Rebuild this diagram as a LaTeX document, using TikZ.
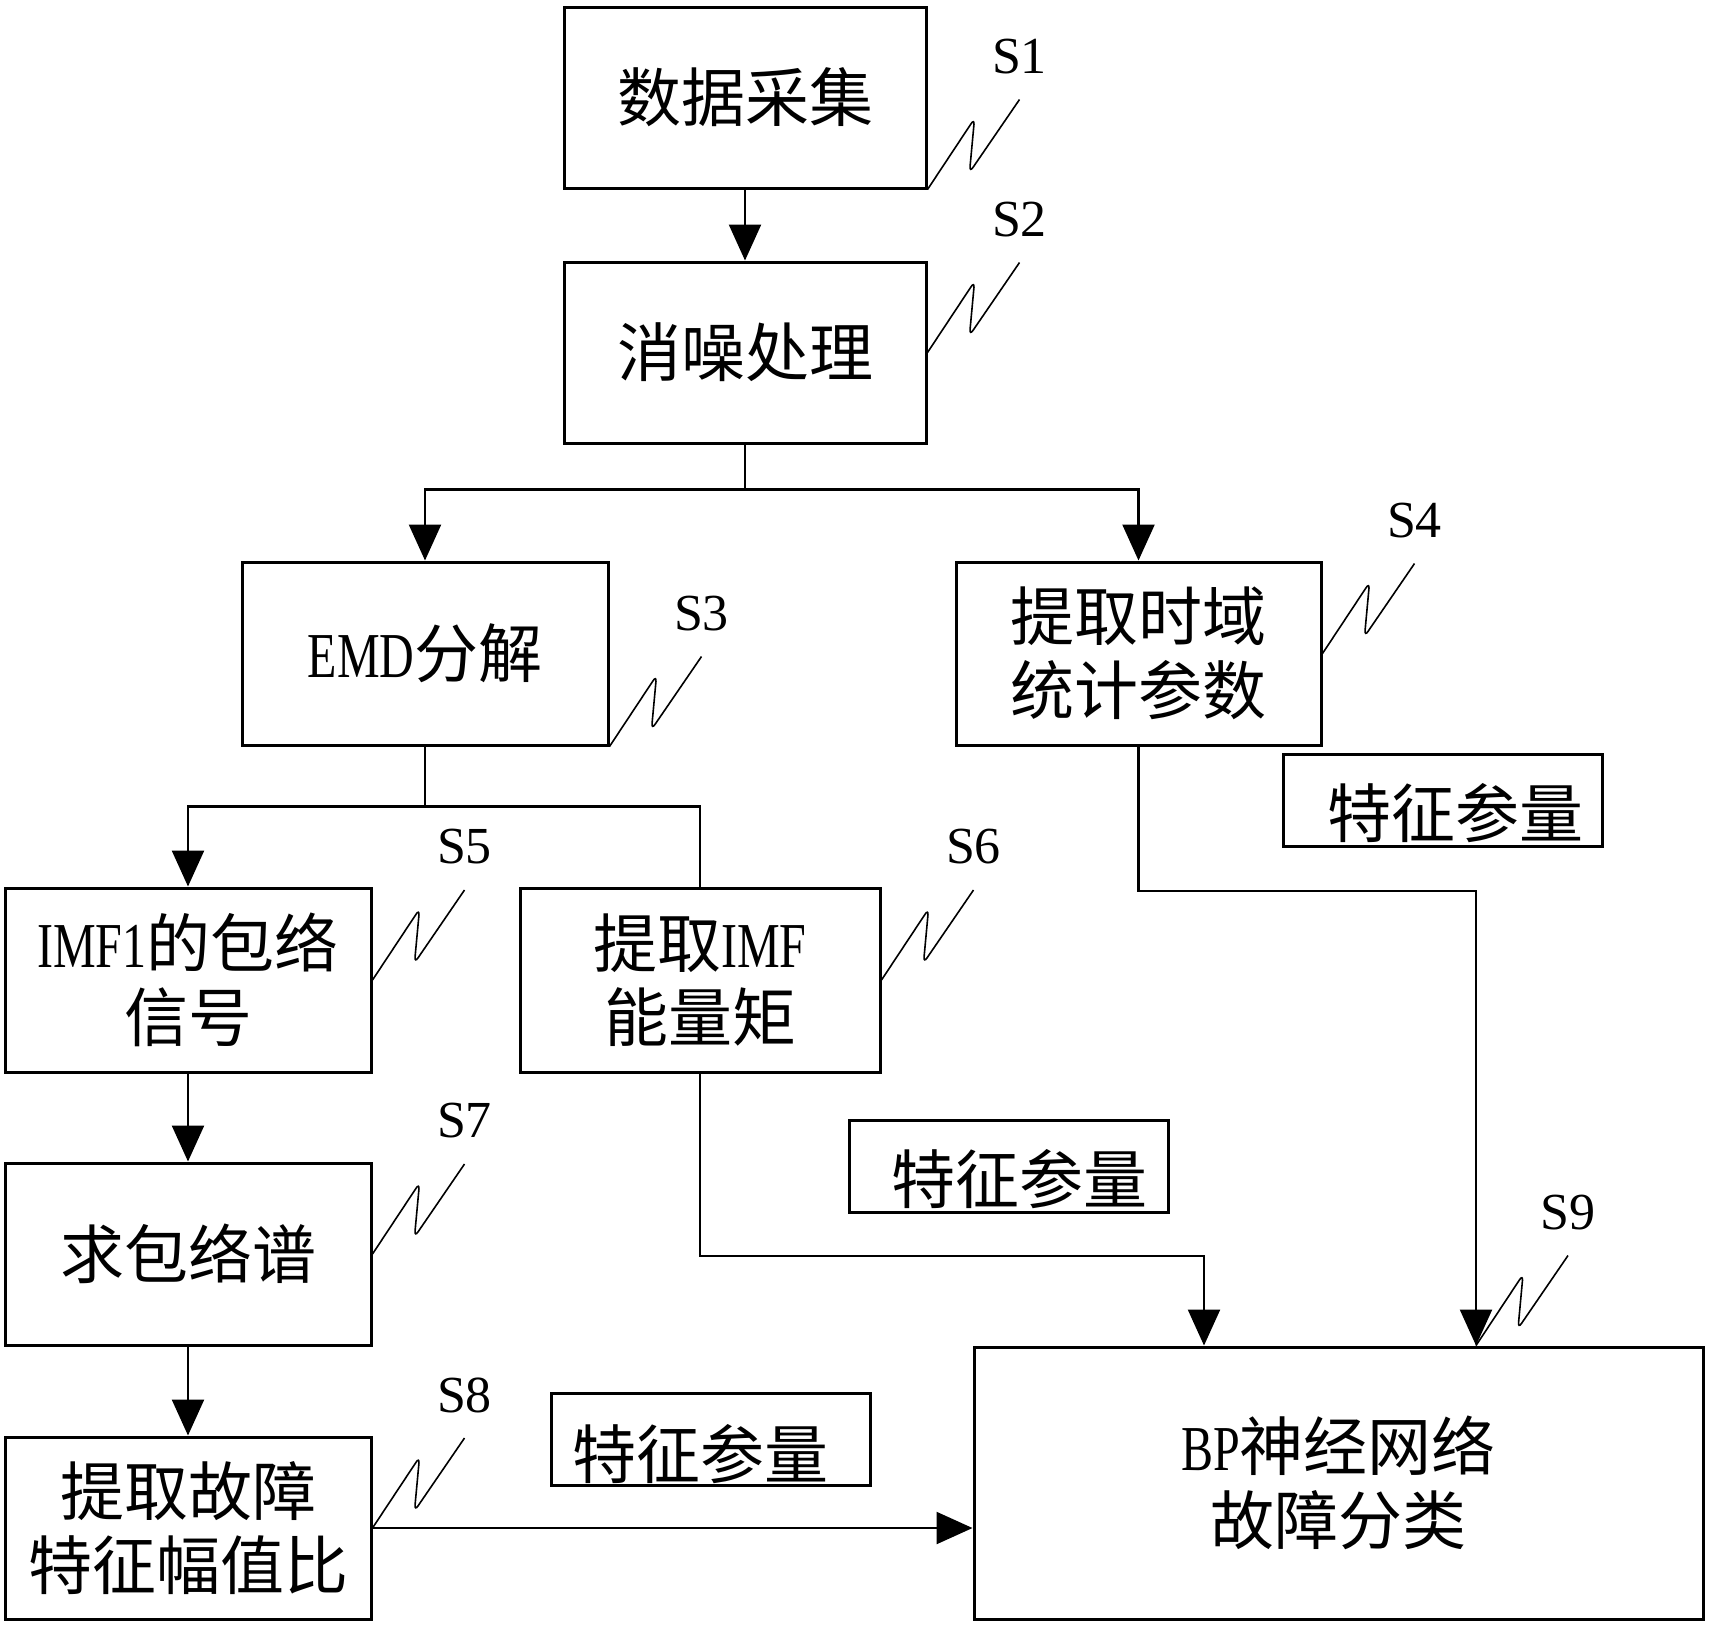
\documentclass[tikz,border=0pt]{standalone}
\usepackage{fontspec}
\setmainfont{Liberation Serif}
\newfontfamily\cjk{Noto Sans CJK SC}
\newfontfamily\narrowlat{Liberation Serif}[FakeStretch=0.75]
\usetikzlibrary{arrows.meta}

% zig-zag mark from a box to its step label
\newcommand{\stepmark}[3]{%
  \draw[squig] #1 -- ++(47,-71) -- ++(-5,54) -- ++(50,-73) coordinate (#2);
  \node[steplabel] at ([yshift=21.5pt]#2) {#3};}

\begin{document}
\begin{tikzpicture}[
            x = 0.5pt, y = -0.5pt,
            every node/.style = {font = \cjk\fontsize{32}{37}\selectfont},
            stepbox/.style = {draw, line width = 1.5pt, align = center, inner sep = 0pt},
            featbox/.style = {draw, line width = 1.5pt, minimum width = 159.5pt, minimum height = 46pt},
            steplabel/.style = {font = \rmfamily\fontsize{26}{28}\selectfont, inner sep = 0pt},
            squig/.style = {line width = 0.8pt, rounded corners = 3pt},
            link/.style = {line width = 1.2pt},
            arr/.style = {link, -{Triangle[length = 18pt, width = 16pt]}}
            ]
  \path[use as bounding box, fill = white] (0,0) rectangle (1712,1630);

  \node[stepbox, minimum width = 181pt, minimum height = 90.5pt] (s1) at (745,97.5) {数据采集};
  \node[stepbox, minimum width = 181pt, minimum height = 90.5pt] (s2) at (745,352.5) {消噪处理};
  \node[stepbox, minimum width = 183pt, minimum height = 91.5pt] (s3) at (425,653.5) {{\narrowlat EMD}分解};
  \node[stepbox, minimum width = 182.5pt, minimum height = 91.5pt] (s4) at (1138.5,653.5) {提取时域\\统计参数};
  \node[stepbox, minimum width = 183pt, minimum height = 92pt] (s5) at (188,980) {{\narrowlat IMF1}的包络\\信号};
  \node[stepbox, minimum width = 180pt, minimum height = 92pt] (s6) at (700,980) {提取{\narrowlat IMF}\\能量矩};
  \node[stepbox, minimum width = 183pt, minimum height = 91pt] (s7) at (188,1254) {求包络谱};
  \node[stepbox, minimum width = 183pt, minimum height = 91pt] (s8) at (188,1528) {提取故障\\特征幅值比};
  \node[stepbox, minimum width = 364.5pt, minimum height = 136pt] (s9) at (1338.5,1483) {{\narrowlat BP}神经网络\\故障分类};

  % feature parameter tags
  \node[featbox] (f1) at (1442.5,800) {};
  \node (f1t) at ([shift = {(6.5pt,-6.5pt)}]f1) {特征参量};
  \node[featbox] (f2) at (1008.5,1166) {};
  \node (f2t) at ([shift = {(5.5pt,-6.5pt)}]f2) {特征参量};
  \node[featbox] (f3) at (711,1439) {};
  \node (f3t) at ([shift = {(-5.5pt,-7.5pt)}]f3) {特征参量};

  % connectors
  \draw[arr] (s1) -- (s2);
  \draw[link] (s2.south) -- ++(0,45) coordinate (sp1);
  \draw[arr] (sp1) -| (s3.north);
  \draw[arr] (sp1) -| (s4.north);
  \draw[link] (s3.south) -- ++(0,60) coordinate (sp2);
  \draw[arr] (sp2) -| (s5.north);
  \draw[link] (sp2) -| (s6.north);
  \draw[arr] (s5) -- (s7);
  \draw[arr] (s7) -- (s8);
  \coordinate (j1) at (1204,1256);
  \coordinate (j2) at (1476,891);
  \draw[arr] (s6.south) |- (j1) -- (j1 |- s9.north);
  \draw[arr] (s4.south) |- (j2) -- (j2 |- s9.north);
  \draw[arr] (s8.east) -- (s8.east -| s9.west);

  % step marks
  \stepmark{(s1.south east)}{m1}{S1}
  \stepmark{(s2.east)}{m2}{S2}
  \stepmark{(s3.south east)}{m3}{S3}
  \stepmark{(s4.east)}{m4}{S4}
  \stepmark{(s5.east)}{m5}{S5}
  \stepmark{(s6.east)}{m6}{S6}
  \stepmark{(s7.east)}{m7}{S7}
  \stepmark{(s8.east)}{m8}{S8}
  \stepmark{(j2 |- s9.north)}{m9}{S9}
\end{tikzpicture}
\end{document}
